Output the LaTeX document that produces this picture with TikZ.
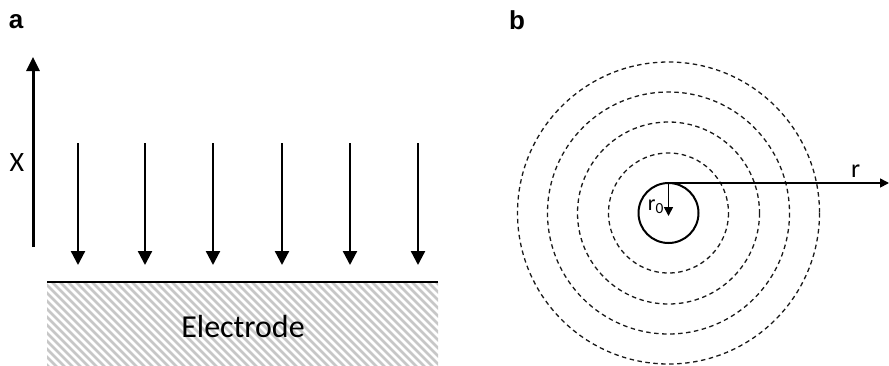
\documentclass[tikz,border=0pt]{standalone}
\usepackage{fontspec}
\setmainfont{Carlito}
\newfontfamily\labelfont{Liberation Sans}
\usetikzlibrary{arrows.meta}
\tikzset{
  panel/.style={font=\labelfont\bfseries\fontsize{26}{26}\selectfont, inner sep=0pt},
  lbl/.style={font=\fontsize{32}{32}\selectfont, inner sep=0pt},
  fluxarrow/.style={line width=2.3pt, -{Triangle[width=14pt,length=14pt]}},
  axisarrow/.style={line width=3pt, -{Triangle[width=13pt,length=14pt]}},
  radarrow/.style={line width=1.6pt, -{Triangle[width=9pt,length=9pt]}},
  dashcirc/.style={line width=1.3pt, dash pattern=on 4.5pt off 3.5pt, black!90},
  hatch/.style={line width=2.6pt, black!22},
}
\begin{document}
\begin{tikzpicture}[x=1pt,y=-1pt]
\useasboundingbox (0,0) rectangle (889,365);
% ---------- panel a ----------
\node[panel] (la) at (16,22) {a};
\coordinate (xb) at (33,247);
\coordinate (xt) at (33,57);
\draw[axisarrow] (xb) -- (xt);
\node[lbl, font=\fontsize{28}{28}\selectfont] (xl) at (17,163) {X};
\foreach \i/\x in {1/78,2/145,3/213,4/282,5/350,6/418}{
  \coordinate (t\i) at (\x,143);
  \coordinate (b\i) at (\x,265);
  \draw[fluxarrow] (t\i) -- (b\i);
}
\begin{scope}
  \clip (47,282) rectangle (438,365);
  \foreach \k in {-100,-92,...,440}{
    \draw[hatch] (\k,282) -- (\k+90,372);
  }
\end{scope}
\coordinate (el) at (47,282);
\coordinate (er) at (438,282);
\draw[line width=2pt] (el) -- (er);
\node[lbl, anchor=base] (elec) at (243,337) {Electrode};
% ---------- panel b ----------
\node[panel] (lb) at (517,20) {b};
\coordinate (c) at (668.5,213);
\foreach \r in {60,91,121,151}{
  \draw[dashcirc] (c) circle[radius=\r];
}
\draw[line width=2pt] (c) circle[radius=30];
\coordinate (top) at (668.5,183);
\coordinate (rend) at (889,183);
\coordinate (r0end) at (668.5,216);
\draw[radarrow] (top) -- (rend);
\draw[radarrow] (top) -- (r0end);
\node[lbl, font=\fontsize{26}{26}\selectfont, anchor=base west] (rl) at (851,177) {r};
\node[lbl, font=\fontsize{22}{22}\selectfont, anchor=base east] (r0l) at (664,210) {r\textsubscript{0}};
\end{tikzpicture}
\end{document}
